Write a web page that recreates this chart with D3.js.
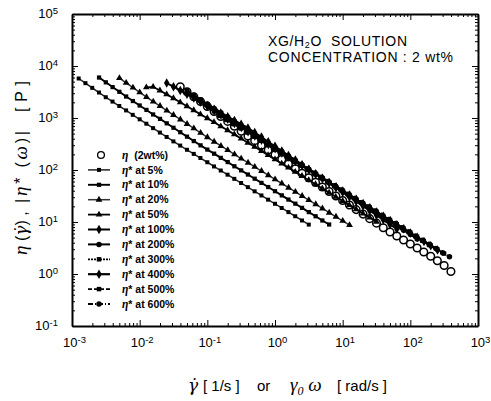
<!DOCTYPE html>
<html>
<head>
<meta charset="utf-8">
<script src="https://cdn.jsdelivr.net/npm/d3@7"></script>
<style>
body {margin: 0; background: #fff}
svg {display: block; font-family: "Liberation Sans", Arial, sans-serif}
svg text {white-space: pre}
</style>
</head>
<body>
<svg class="chart" width="491" height="401"></svg>
<script>
// frequency sweep [rad/s], the same for every strain amplitude
let omega = [0.0251, 0.0316, 0.0398, 0.0501, 0.0631, 0.0794, 0.1, 0.126, 0.158, 0.2,
    0.251, 0.316, 0.398, 0.501, 0.631, 0.794, 1, 1.26, 1.58, 2,
    2.51, 3.16, 3.98, 5.01, 6.31, 7.94, 10, 12.6, 15.8, 20,
    25.1, 31.6, 39.8, 50.1, 63.1]

let strains = [0.05, 0.1, 0.2, 0.5, 1, 2, 3, 4, 5, 6]
let strain_labels = ["5%", "10%", "20%", "50%", "100%", "200%", "300%", "400%", "500%", "600%"]

// |eta*| [P] at each strain amplitude
let eta_5 = [5750, 4680, 3800, 3090, 2510, 2070, 1700, 1400, 1150, 944,
    776, 638, 525, 432, 355, 295, 245, 204, 170, 141,
    117, 97.7, 81.3, 67.6, 56.2, 46.8, 38.9, 32.4, 26.9, 22.4,
    18.6, 15.5, 12.9, 10.7, 8.91]
let eta_10 = [6000, 4850, 3930, 3190, 2590, 2120, 1740, 1430, 1170, 962,
    790, 649, 533, 438, 360, 298, 247, 206, 171, 142,
    118, 98.3, 81.8, 68.0, 56.5, 47.0, 39.1, 32.5, 27.0, 22.5,
    18.7, 15.5, 12.9, 10.7, 8.95]
let eta_20 = [5850, 4740, 3840, 3110, 2520, 2070, 1700, 1390, 1140, 936,
    769, 631, 518, 426, 350, 290, 241, 200, 166, 138,
    115, 95.5, 79.4, 66.1, 55.0, 45.7, 38.0, 31.6, 26.3, 21.9,
    18.2, 15.1, 12.6, 10.5, 8.71]
let eta_50 = [3890, 3980, 3390, 2850, 2400, 2000, 1680, 1410, 1175, 989,
    832, 692, 582, 484, 403, 335, 279, 232, 193, 160,
    133, 111, 92.3, 76.7, 63.8, 53.1, 44.2, 36.7, 30.5, 25.4,
    21.1, 17.6, 14.6, 12.2, 10.1]
let eta_100 = [4710, 3990, 3380, 2860, 2430, 2060, 1740, 1480, 1250, 1060,
    897, 760, 644, 526, 429, 350, 285, 233, 190, 155,
    126, 103, 84.1, 68.7, 56.0, 45.7, 37.2, 30.4, 24.8, 20.2,
    16.5, 13.5, 11.0, 8.97, 7.33]
let eta_200 = [3310, 2730, 2250, 1860, 1530, 1265, 1040, 859, 708, 585,
    482, 397, 328, 270, 223, 184, 152, 125, 103, 85.1,
    70.2, 57.8, 47.8, 39.4, 32.4, 26.8, 22.1, 18.2, 15.0, 12.4,
    10.2, 8.41, 6.95, 5.73, 4.72]
let eta_300 = [2190, 1810, 1500, 1245, 1030, 853, 706, 585, 485, 402,
    333, 275, 228, 189, 157, 130, 107, 88.9, 73.8, 61.1,
    50.6, 41.9, 34.7, 28.8, 23.8, 19.7, 16.3, 13.5, 11.2, 9.29,
    7.69, 6.37, 5.27, 4.38, 3.62]
let eta_400 = [1660, 1377, 1143, 948, 787, 653, 541, 449, 372, 309,
    256, 213, 177, 147, 122, 101, 83.6, 69.3, 57.5, 47.8,
    39.6, 32.9, 27.3, 22.6, 18.8, 15.6, 12.9, 10.7, 8.89, 7.38,
    6.12, 5.08, 4.22, 3.50, 2.90]
let eta_500 = [1349, 1122, 931, 774, 643, 535, 444, 369, 306, 255,
    211, 176, 146, 121, 101, 83.7, 69.5, 57.8, 48.0, 39.9,
    33.1, 27.5, 22.9, 19.0, 15.8, 13.1, 10.9, 9.06, 7.52, 6.25,
    5.19, 4.32, 3.58, 2.98, 2.47]
let eta_600 = [1122, 933, 776, 646, 537, 447, 372, 309, 257, 214,
    178, 148, 123, 102, 85.1, 70.8, 58.9, 49.0, 40.7, 33.9,
    28.2, 23.4, 19.5, 16.2, 13.5, 11.2, 9.33, 7.76, 6.46, 5.37,
    4.47, 3.72, 3.09, 2.57, 2.14]

// steady shear viscosity of the 2 wt% solution
let shear_rate = [0.0398, 0.0501, 0.0631, 0.0794, 0.1, 0.126, 0.158, 0.2, 0.251, 0.316,
    0.398, 0.501, 0.631, 0.794, 1, 1.26, 1.58, 2, 2.51, 3.16,
    3.98, 5.01, 6.31, 7.94, 10, 12.6, 15.8, 20, 25.1, 31.6,
    39.8, 50.1, 63.1, 79.4, 100, 126, 158, 200, 251, 316, 398]
let eta_steady = [3980, 3200, 2570, 2065, 1660, 1334, 1072, 861, 692, 556,
    452, 367, 299, 243, 197, 160, 130, 106, 86.1, 70.5,
    57.7, 47.2, 38.6, 31.6, 25.9, 21.2, 17.3, 14.2, 11.6, 9.51,
    7.76, 6.43, 5.38, 4.51, 3.78, 3.16, 2.65, 2.19, 1.80, 1.46, 1.12]

let x_ticks = [1e-3, 1e-2, 1e-1, 1e0, 1e1, 1e2, 1e3]
let y_ticks = [1e-1, 1e0, 1e1, 1e2, 1e3, 1e4, 1e5]

let eta_star = [eta_5, eta_10, eta_20, eta_50, eta_100, eta_200, eta_300, eta_400, eta_500, eta_600]

let width = 491
let height = 401
const margin = {top: 14, left: 72, right: 13, bottom: 75}

const serif = "'Liberation Serif', 'DejaVu Serif', serif"

// marker and line look for each strain amplitude
let styles = [
    {sym: d3.symbolSquare, size: 16, dash: null, color: "#222", lw: 1.5},
    {sym: d3.symbolSquare, size: 18, dash: null, color: "#000", lw: 1.9},
    {sym: d3.symbolTriangle, size: 20, dash: null, color: "#333", lw: 1.5},
    {sym: d3.symbolTriangle, size: 20, dash: null, color: "#000", lw: 1.8},
    {sym: d3.symbolDiamond, size: 26, dash: null, color: "#000", lw: 2},
    {sym: d3.symbolCircle, size: 24, dash: null, color: "#000", lw: 2},
    {sym: d3.symbolSquare, size: 20, dash: "2,1", color: "#000", lw: 1.8},
    {sym: d3.symbolDiamond, size: 26, dash: null, color: "#000", lw: 2.2},
    {sym: d3.symbolSquare, size: 20, dash: "4,2", color: "#000", lw: 1.8},
    {sym: d3.symbolCircle, size: 24, dash: "5,2,1,2", color: "#000", lw: 1.8}
]

let svg = d3.select(".chart")

let xScale = d3.scaleLog()
    .domain([1e-3, 1e3])
    .range([margin.left, width - margin.right])

let yScale = d3.scaleLog()
    .domain([1e-1, 1e5])
    .range([height - margin.bottom, margin.top])

let minor_x = xScale.ticks().filter(d => !x_ticks.some(t => Math.abs(t - d) / t < 1e-6))
let minor_y = yScale.ticks().filter(d => !y_ticks.some(t => Math.abs(t - d) / t < 1e-6))

function power_label(sel) {
    sel.selectAll(".tick text").each(function (d) {
        let t = d3.select(this)
        let e = Math.round(Math.log10(d))
        t.text(null)
        t.append("tspan").text("10")
        t.append("tspan")
            .attr("dy", "-0.42em")
            .attr("font-size", "9.5px")
            .text(e)
    })
}

function minor(axis, tx, ty, values) {
    svg.append("g")
        .attr("transform", `translate(${tx}, ${ty})`)
        .call(axis.tickValues(values).tickSize(-3).tickFormat(""))
        .call(g => g.select(".domain").remove())
}

// the axis line of every side doubles as the plot frame
function frame_side(g) {
    g.select(".domain")
        .style("stroke", "#000")
        .style("stroke-width", "2px")
        .style("fill", "none")
}

function draw_axes() {
    let bottom = height - margin.bottom
    let right = width - margin.right

    minor(d3.axisBottom(xScale), 0, bottom, minor_x)
    minor(d3.axisTop(xScale), 0, margin.top, minor_x)
    minor(d3.axisLeft(yScale), margin.left, 0, minor_y)
    minor(d3.axisRight(yScale), right, 0, minor_y)

    // bottom, labelled
    svg.append("g")
        .attr("transform", `translate(0, ${bottom})`)
        .call(d3.axisBottom(xScale).tickValues(x_ticks).tickSizeInner(-6).tickSizeOuter(0).tickPadding(12))
        .call(frame_side)
        .call(g => g.selectAll("text").attr("font-size", "13px").attr("fill", "#000").attr("dx", "2"))
        .call(power_label)
    // top mirror
    svg.append("g")
        .attr("transform", `translate(0, ${margin.top})`)
        .call(d3.axisTop(xScale).tickValues(x_ticks).tickSizeInner(-6).tickSizeOuter(0).tickFormat(""))
        .call(frame_side)

    // left, labelled
    svg.append("g")
        .attr("transform", `translate(${margin.left}, 0)`)
        .call(d3.axisLeft(yScale).tickValues(y_ticks).tickSizeInner(-6).tickSizeOuter(0).tickPadding(14))
        .call(frame_side)
        .call(g => g.selectAll("text").attr("font-size", "13px").attr("fill", "#000").attr("dy", "0.25em"))
        .call(power_label)
    // right mirror
    svg.append("g")
        .attr("transform", `translate(${right}, 0)`)
        .call(d3.axisRight(yScale).tickValues(y_ticks).tickSizeInner(-6).tickSizeOuter(0).tickFormat(""))
        .call(frame_side)

    svg.selectAll(".tick line").style("stroke", "#000").style("stroke-width", "1px")
}

function draw_steady() {
    let data = shear_rate.map((d, i) => ({x: d, y: eta_steady[i]}))
    svg.append("g")
        .selectAll("circle.steady")
        .data(data)
        .enter()
        .append("circle")
        .classed("steady", true)
        .attr("cx", d => xScale(d.x))
        .attr("cy", d => yScale(d.y))
        .attr("r", 3.8)
        .style("fill", "#fff")
        .style("stroke", "#000")
        .style("stroke-width", "1.5px")
}

function draw_dynamic() {
    let line = d3.line()
        .x(d => xScale(d.x))
        .y(d => yScale(d.y))

    eta_star.forEach((values, k) => {
        let st = styles[k]
        let data = values.map((v, i) => ({x: strains[k] * omega[i], y: v}))
        let g = svg.append("g").attr("class", "series")

        g.append("path")
            .datum(data)
            .attr("d", line)
            .style("fill", "none")
            .style("stroke", st.color)
            .style("stroke-width", st.lw + "px")
            .attr("stroke-dasharray", st.dash)

        g.selectAll("path.mark")
            .data(data)
            .enter()
            .append("path")
            .classed("mark", true)
            .attr("transform", d => `translate(${xScale(d.x)}, ${yScale(d.y)})`)
            .attr("d", d3.symbol().type(st.sym).size(st.size))
            .style("fill", "#000")
    })
}

function greek(text_sel, s, size) {
    return text_sel.append("tspan")
        .attr("font-family", serif)
        .attr("font-style", "italic")
        .attr("font-size", size)
        .text(s)
}

function draw_legend() {
    let lx = 88, ly = 155, step = 14.9
    let lg = svg.append("g").attr("font-size", "10.5px").attr("font-weight", "bold")

    lg.append("circle")
        .attr("cx", lx + 13)
        .attr("cy", ly)
        .attr("r", 3.4)
        .style("fill", "#fff")
        .style("stroke", "#000")
        .style("stroke-width", "1.3px")
    let t0 = lg.append("text").attr("x", lx + 34).attr("y", ly).attr("dy", "0.35em")
    greek(t0, "η", "11.5px")
    t0.append("tspan").text("  (2wt%)")

    strain_labels.forEach((lab, k) => {
        let st = styles[k]
        let y = ly + (k + 1) * step
        lg.append("line")
            .attr("x1", lx).attr("x2", lx + 22)
            .attr("y1", y).attr("y2", y)
            .style("stroke", st.color)
            .style("stroke-width", st.lw + "px")
            .attr("stroke-dasharray", st.dash)
        lg.append("path")
            .attr("transform", `translate(${lx + 11}, ${y})`)
            .attr("d", d3.symbol().type(st.sym).size(st.size))
            .style("fill", "#000")
        let t = lg.append("text").attr("x", lx + 34).attr("y", y).attr("dy", "0.35em")
        greek(t, "η", "11.5px")
        t.append("tspan").text("* at " + lab)
    })
}

function draw_texts() {
    let title = svg.append("g").attr("font-size", "14px").attr("fill", "#000")
    let t1 = title.append("text").attr("x", 268).attr("y", 46)
        .attr("textLength", 139).attr("lengthAdjust", "spacing")
    t1.append("tspan").text("XG/H")
    t1.append("tspan").attr("font-size", "9px").attr("dy", "2").text("2")
    t1.append("tspan").attr("dy", "-2").text("O  SOLUTION")
    title.append("text").attr("x", 268).attr("y", 62)
        .attr("textLength", 185).attr("lengthAdjust", "spacing")
        .text("CONCENTRATION : 2 wt%")

    // x axis title, pieces placed along the baseline
    let base = 391
    let xg = svg.append("g").attr("font-size", "15px")
    greek(xg.append("text").attr("x", 188).attr("y", base), "γ\u0307", "17px")
        .attr("font-family", "'DejaVu Serif', serif")
    xg.append("text").attr("x", 203).attr("y", base).text("[ 1/s ]")
    xg.append("text").attr("x", 257).attr("y", base).text("or")
    let xb = xg.append("text").attr("x", 290).attr("y", base)
    greek(xb, "γ", "19px")
    greek(xb, "0", "12px").attr("dy", "4")
    greek(xb, " ω", "19px").attr("dy", "-4")
    xg.append("text").attr("x", 337).attr("y", base).text("[ rad/s ]")

    // y axis title, rotated, read from bottom to top
    let yg = svg.append("g")
        .attr("transform", "translate(27, 0) rotate(-90)")
        .attr("font-size", "16px")
    let ya = yg.append("text").attr("x", -255).attr("y", 0)
    greek(ya, "η", "19px")
    ya.append("tspan").text(" (")
    greek(ya, "γ\u0307", "17px").attr("font-family", "'DejaVu Serif', serif")
    ya.append("tspan").text(") ,")
    let yb = yg.append("text").attr("x", -203).attr("y", 0)
        .attr("textLength", 72).attr("lengthAdjust", "spacing")
    yb.append("tspan").text("|")
    greek(yb, "η", "19px")
    yb.append("tspan").attr("dy", "-1").text("*")
    yb.append("tspan").attr("dy", "1").text(" (")
    greek(yb, "ω", "19px")
    yb.append("tspan").text(")|")
    yg.append("text").attr("x", -112).attr("y", 0)
        .attr("textLength", 31).attr("lengthAdjust", "spacing")
        .text("[ P ]")
}

draw_axes()
draw_steady()
draw_dynamic()
draw_legend()
draw_texts()
</script>
</body>
</html>
